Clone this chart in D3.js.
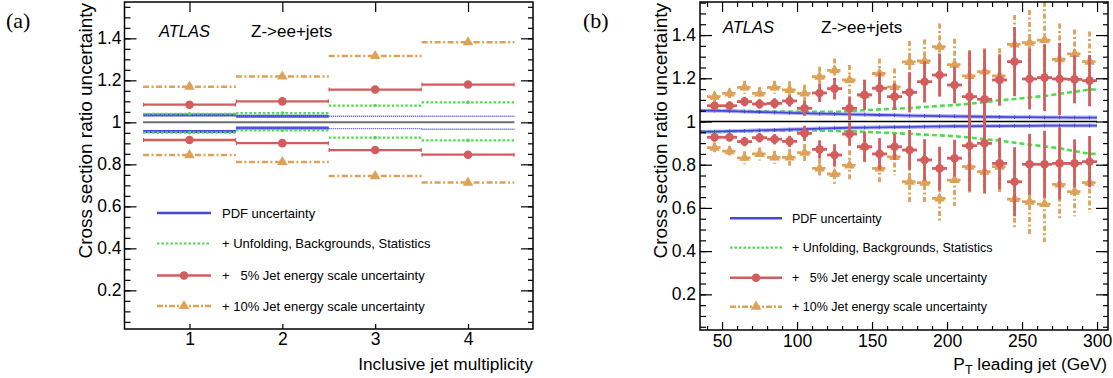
<!DOCTYPE html>
<html><head><meta charset="utf-8">
<script src="https://cdn.jsdelivr.net/npm/d3@7"></script>
<style>
body{margin:0;background:#fff}
svg{display:block}
</style>
</head><body>
<svg id="c" width="1113" height="378"></svg>
<script>
// ---------------- Panel (a): inclusive jet multiplicity ----------------
const multCats = [1, 2, 3, 4];
const multLo = [0.5, 1.5, 2.5, 3.5];
const multHi = [1.5, 2.5, 3.5, 4.5];
const aPdfUp = [1.035, 1.029, 1.029, 1.029];
const aPdfDn = [0.956, 0.973, 0.970, 0.967];
const aUnfUp = [1.041, 1.044, 1.080, 1.095];
const aUnfDn = [0.951, 0.962, 0.927, 0.914];
const aJes5Up = [1.084, 1.100, 1.156, 1.180];
const aJes5Dn = [0.916, 0.901, 0.868, 0.846];
const aJes10Up = [1.170, 1.218, 1.316, 1.381];
const aJes10Dn = [0.844, 0.811, 0.744, 0.713];

// ---------------- Panel (b): leading jet pT ----------------
const ptBins = [45,55,65,75,85,95,105,115,125,135,145,155,165,175,185,195,205,215,225,235,245,255,265,275,285,295];
const ptHalfWidth = 5;
const bPdfUp = [1.050,1.048,1.046,1.044,1.042,1.040,1.038,1.036,1.035,1.033,1.032,1.030,1.029,1.027,1.026,1.025,1.024,1.023,1.022,1.021,1.020,1.020,1.019,1.019,1.018,1.018];
const bPdfDn = [0.953,0.955,0.957,0.959,0.961,0.963,0.965,0.967,0.969,0.971,0.972,0.973,0.974,0.975,0.976,0.977,0.978,0.978,0.979,0.979,0.980,0.980,0.981,0.981,0.981,0.981];
const bUnfUp = [1.050,1.049,1.048,1.047,1.046,1.046,1.045,1.045,1.045,1.048,1.052,1.056,1.059,1.062,1.067,1.072,1.076,1.082,1.090,1.098,1.104,1.111,1.118,1.128,1.138,1.148];
const bUnfDn = [0.953,0.954,0.955,0.956,0.957,0.958,0.958,0.958,0.956,0.955,0.952,0.949,0.946,0.943,0.939,0.936,0.932,0.926,0.918,0.911,0.902,0.893,0.885,0.876,0.863,0.850];
const bJes5Up = [1.073,1.073,1.092,1.081,1.084,1.095,1.061,1.132,1.152,1.061,1.123,1.154,1.115,1.135,1.184,1.215,1.169,1.115,1.103,1.192,1.277,1.197,1.203,1.197,1.195,1.189];
const bJes5Dn = [0.927,0.927,0.907,0.925,0.918,0.908,0.945,0.871,0.845,0.942,0.883,0.850,0.883,0.868,0.822,0.783,0.830,0.888,0.899,0.806,0.721,0.802,0.802,0.806,0.806,0.814];
const bJes5Err = [0.020,0.020,0.022,0.022,0.024,0.026,0.035,0.042,0.050,0.055,0.070,0.073,0.060,0.093,0.096,0.100,0.085,0.210,0.230,0.119,0.160,0.141,0.155,0.167,0.111,0.119];
const bJes10Up = [1.115,1.130,1.158,1.130,1.158,1.146,1.130,1.207,1.237,1.192,1.123,1.222,1.160,1.276,1.280,1.346,1.263,1.211,1.231,1.211,1.357,1.365,1.377,1.288,1.313,1.277];
const bJes10Dn = [0.879,0.863,0.832,0.850,0.834,0.834,0.856,0.783,0.757,0.797,0.883,0.783,0.836,0.721,0.717,0.644,0.729,0.791,0.768,0.791,0.641,0.629,0.618,0.709,0.675,0.717];
const bJes10Err = [0.023,0.023,0.030,0.030,0.030,0.040,0.040,0.046,0.054,0.070,0.070,0.070,0.085,0.096,0.100,0.108,0.120,0.120,0.108,0.128,0.136,0.151,0.177,0.165,0.113,0.139];

// ---------------- Ticks and text ----------------
const yMajorTicks = [0.2, 0.4, 0.6, 0.8, 1.0, 1.2, 1.4];
const aXTicks = [1, 2, 3, 4];
const bXMajorTicks = [50, 100, 150, 200, 250, 300];
const legendLabels = ["PDF uncertainty", "+ Unfolding, Backgrounds, Statistics", "+   5% Jet energy scale uncertainty", "+ 10% Jet energy scale uncertainty"];
const yTitle = "Cross section ratio uncertainty";

const FONT = '"Liberation Sans", Arial, Helvetica, sans-serif';
const C = {blue:"#4747d8", green:"#4fdc4f", red:"#d35c5c", orange:"#dea158", gray:"#6e6e6e"};
const svg = d3.select("#c");

const fmtY = d => (Math.abs(d - 1) < 1e-9 ? "1" : d3.format(".1f")(d));

function axes(x, y, o) {
  const [x0, x1] = x.range(), [yb, yt] = y.range();
  const g = svg.append("g");
  const yMinor = d3.range(0.05, 1.56, 0.05).filter(v => v > y.domain()[0] && v < y.domain()[1]);
  const style = s => { s.select(".domain").remove(); s.selectAll("line").attr("stroke","#000").attr("stroke-width",1.2);
    s.selectAll("text").attr("font-family",FONT).attr("font-size",o.fs).attr("fill","#000"); };
  g.append("g").attr("transform",`translate(${x0},0)`).call(d3.axisLeft(y).tickValues(yMajorTicks).tickSize(-12).tickPadding(o.yPad).tickFormat(fmtY)).call(style);
  g.append("g").attr("transform",`translate(${x0},0)`).call(d3.axisLeft(y).tickValues(yMinor).tickSize(-6).tickFormat("")).call(style);
  g.append("g").attr("transform",`translate(${x1},0)`).call(d3.axisRight(y).tickValues(yMajorTicks).tickSize(-12).tickFormat("")).call(style);
  g.append("g").attr("transform",`translate(${x1},0)`).call(d3.axisRight(y).tickValues(yMinor).tickSize(-5).tickFormat("")).call(style);
  g.append("g").attr("transform",`translate(0,${yb})`).call(d3.axisBottom(x).tickValues(o.xMajor).tickSize(-o.bMaj).tickPadding(o.xPad).tickFormat(d3.format("d"))).call(style);
  if (o.xMinor) g.append("g").attr("transform",`translate(0,${yb})`).call(d3.axisBottom(x).tickValues(o.xMinor).tickSize(-o.bMin).tickFormat("")).call(style);
  g.append("g").attr("transform",`translate(0,${yt})`).call(d3.axisBottom(x).tickValues(o.xMajor).tickSize(10).tickFormat("")).call(style);
  if (o.xMinor) g.append("g").attr("transform",`translate(0,${yt})`).call(d3.axisBottom(x).tickValues(o.xMinor).tickSize(5).tickFormat("")).call(style);
  g.append("rect").attr("x",x0).attr("y",yt).attr("width",x1-x0).attr("height",yb-yt)
    .attr("fill","none").attr("stroke","#000").attr("stroke-width",1.5);
}

function txt(x, y, s, o = {}) {
  const t = svg.append("text").attr("x",x).attr("y",y).text(s)
    .attr("font-family", o.ff || FONT).attr("font-size", o.fs || 17).attr("fill","#000")
    .attr("text-anchor", o.anchor || "start").style("white-space","pre");
  if (o.italic) t.attr("font-style","italic");
  return t;
}

function hline(g, x1, x2, y, color, w, dash) {
  return g.append("line").attr("x1",x1).attr("x2",x2).attr("y1",y).attr("y2",y)
    .attr("stroke",color).attr("stroke-width",w).attr("stroke-dasharray",dash||null);
}
function vline(g, x, y1, y2, color, w, dash) {
  return g.append("line").attr("x1",x).attr("x2",x).attr("y1",y1).attr("y2",y2)
    .attr("stroke",color).attr("stroke-width",w).attr("stroke-dasharray",dash||null);
}
const tri = d3.symbol(d3.symbolTriangle).size(48);

function legend(xs, xe, xt, rows, fs) {
  const g = svg.append("g");
  const xm = (xs + xe) / 2;
  hline(g, xs, xe, rows[0], C.blue, 2.5);
  hline(g, xs, xe, rows[1], C.green, 2.2, "2.5,2");
  hline(g, xs, xe, rows[2], C.red, 2.5);
  g.append("circle").attr("cx",xm).attr("cy",rows[2]).attr("r",4.3).attr("fill",C.red);
  hline(g, xs, xe, rows[3], C.orange, 2.5, "6,2,2,2");
  g.append("path").attr("d",tri).attr("transform",`translate(${xm},${rows[3]})`).attr("fill",C.orange);
  legendLabels.forEach((s, i) => txt(xt, rows[i] + fs*0.36, s, {fs}));
}

// ================= Panel (a) =================
{
  const x = d3.scaleLinear().domain([0.3, 4.7]).range([124.5, 533]);
  const y = d3.scaleLinear().domain([0.016, 1.573]).range([329, 2]);
  const g = svg.append("g");
  hline(g, x(multLo[0]), x(multHi[3]), y(1), C.gray, 2);
  multCats.forEach((c, i) => {
    const xa = x(multLo[i]), xb = x(multHi[i]), xc = x(c);
    [aJes10Up[i], aJes10Dn[i]].forEach(v => {
      hline(g, xa, xb, y(v), C.orange, 2.5, "6,2.5,2,2.5");
      g.append("path").attr("d",tri).attr("transform",`translate(${xc},${y(v)})`).attr("fill",C.orange);
    });
    [aJes5Up[i], aJes5Dn[i]].forEach(v => {
      hline(g, xa, xb, y(v), C.red, 2.3);
      vline(g, xa + 0.5, y(v) - 2, y(v) + 2, C.red, 1.2);
      vline(g, xb - 0.5, y(v) - 2, y(v) + 2, C.red, 1.2);
      g.append("circle").attr("cx",xc).attr("cy",y(v)).attr("r",4.3).attr("fill",C.red);
    });
    [aPdfUp[i], aPdfDn[i]].forEach(v => {
      if (i < 2) {
        hline(g, xa, xb, y(v), C.blue, 3);
        hline(g, xa, xb, y(v), "#7b7bf0", 1, "1,1");
      } else {
        hline(g, xa, xb, y(v), C.blue, 1.4, "1,1");
      }
    });
    [aUnfUp[i], aUnfDn[i]].forEach(v => {
      hline(g, xa, xb, y(v), C.green, 2.2, "2.5,2");
      g.append("circle").attr("cx",xc).attr("cy",y(v)).attr("r",1.8).attr("fill",C.green);
    });
  });
  axes(x, y, {xMajor: aXTicks, bMaj: 5, xPad: 4, yPad: 3, fs: 17.5});
  legend(157, 211, 222, [213, 243.5, 275.5, 306], 13);
  txt(159, 37, "ATLAS", {fs: 16.5, italic: true});
  txt(251, 37, "Z->ee+jets", {fs: 17});
  txt(533, 370, "Inclusive jet multiplicity", {fs: 17.3, anchor: "end"});
  txt(0, 0, yTitle, {fs: 19, anchor: "end"}).attr("transform","translate(92,3) rotate(-90)");
  txt(6, 28, "(a)", {fs: 22, ff: '"Liberation Serif", "Times New Roman", serif'});
}

// ================= Panel (b) =================
{
  const x = d3.scaleLinear().domain([35.3, 307.3]).range([700, 1108]);
  const y = d3.scaleLinear().domain([0.035, 1.553]).range([330, 2]);
  svg.append("defs").append("clipPath").attr("id","clipb").append("rect")
    .attr("x",700).attr("y",2).attr("width",408).attr("height",328);
  const g = svg.append("g").attr("clip-path","url(#clipb)");
  const xStart = x.domain()[0], xEnd = 300;
  const lineGen = d3.line().x(d => x(d[0])).y(d => y(d[1]));
  const series = vals => [[xStart, vals[0]], ...ptBins.map((p, i) => [p, vals[i]]), [xEnd, vals[vals.length - 1]]];

  hline(g, x(xStart), x(xEnd), y(1), "#000", 1.6);
  [bUnfUp, bUnfDn].forEach(v => {
    g.append("path").attr("d", lineGen(series(v))).attr("fill","none")
      .attr("stroke",C.green).attr("stroke-width",2.6).attr("stroke-dasharray","5,3");
  });
  [bPdfUp, bPdfDn].forEach(v => {
    g.append("path").attr("d", lineGen(series(v))).attr("fill","none")
      .attr("stroke","#8b8bf0").attr("stroke-width",4).attr("stroke-opacity",0.6);
    g.append("path").attr("d", lineGen(series(v))).attr("fill","none")
      .attr("stroke",C.blue).attr("stroke-width",1.8);
    ptBins.forEach((p, i) => vline(g, x(p), y(v[i]) - 1.8, y(v[i]) + 1.8, C.blue, 1));
  });
  ptBins.forEach((p, i) => {
    [bJes10Up[i], bJes10Dn[i]].forEach(v => {
      vline(g, x(p), y(v + bJes10Err[i]), y(v - bJes10Err[i]), C.orange, 2.8, "5,2.5,2,2.5");
      hline(g, x(p - ptHalfWidth), x(p + ptHalfWidth), y(v), C.orange, 2.8, "4.5,1.5,1.5,1.5");
      g.append("path").attr("d",tri).attr("transform",`translate(${x(p)},${y(v)})`).attr("fill",C.orange);
    });
  });
  ptBins.forEach((p, i) => {
    [bJes5Up[i], bJes5Dn[i]].forEach(v => {
      vline(g, x(p), y(v + bJes5Err[i]), y(v - bJes5Err[i]), C.red, 2.8);
      hline(g, x(p - ptHalfWidth), x(p + ptHalfWidth), y(v), C.red, 2.8);
      g.append("circle").attr("cx",x(p)).attr("cy",y(v)).attr("r",4.3).attr("fill",C.red);
    });
  });
  axes(x, y, {xMajor: bXMajorTicks, xMinor: d3.range(40, 301, 10).filter(v => v % 50 !== 0),
              bMaj: 8, bMin: 4, xPad: 5, yPad: 4, fs: 17.5});
  legend(730, 782, 792, [218.3, 247.7, 277.7, 306.7], 12.5);
  txt(723, 33, "ATLAS", {fs: 16.5, italic: true});
  txt(821, 33, "Z->ee+jets", {fs: 17});
  const xt = txt(1107, 370, "P", {fs: 17.3, anchor: "end"});
  xt.append("tspan").attr("font-size",12.5).attr("dy",4).text("T");
  xt.append("tspan").attr("dy",-4).text(" leading jet (GeV)");
  txt(0, 0, yTitle, {fs: 19, anchor: "end"}).attr("transform","translate(667,3) rotate(-90)");
  txt(583, 28, "(b)", {fs: 22, ff: '"Liberation Serif", "Times New Roman", serif'});
}
</script>
</body></html>
